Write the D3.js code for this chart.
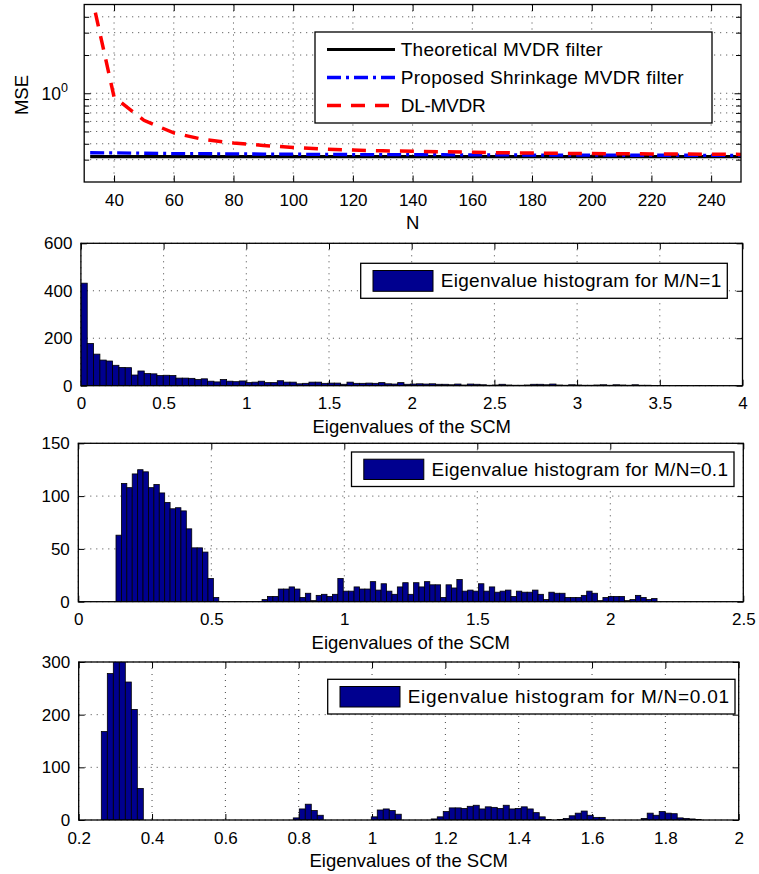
<!DOCTYPE html>
<html>
<head>
<meta charset="utf-8">
<script src="https://cdn.jsdelivr.net/npm/d3@7"></script>
<style>
  body { margin: 0; background: #fff; }
  svg text { font-family: "Liberation Sans", Arial, Helvetica, sans-serif; fill: #000; }
</style>
</head>
<body>
<svg id="fig" width="759" height="874"></svg>
<script>
// ---- MSE versus number of snapshots N ----
const snapshotsN = [32, 40, 50, 60, 70, 80, 90, 100, 110, 120, 130, 140, 150, 160, 170, 180, 190, 200, 210, 220, 230, 240, 250];
const mseTheoretical = [0.317, 0.317, 0.317, 0.317, 0.317, 0.317, 0.317, 0.317, 0.317, 0.317, 0.317, 0.317, 0.317, 0.317, 0.317, 0.317, 0.317, 0.317, 0.317, 0.317, 0.317, 0.317, 0.317];
const mseShrinkage = [0.340, 0.339, 0.337, 0.335, 0.334, 0.333, 0.332, 0.331, 0.330, 0.329, 0.329, 0.328, 0.328, 0.327, 0.327, 0.326, 0.326, 0.326, 0.325, 0.325, 0.325, 0.324, 0.324];
const mseDL = [6.6, 0.935, 0.612, 0.487, 0.432, 0.406, 0.388, 0.374, 0.364, 0.357, 0.352, 0.349, 0.346, 0.343, 0.340, 0.338, 0.336, 0.335, 0.334, 0.333, 0.332, 0.331, 0.330];
const mseLegend = ["Theoretical MVDR filter", "Proposed Shrinkage MVDR filter", "DL-MVDR"];
const nTicks = [40, 60, 80, 100, 120, 140, 160, 180, 200, 220, 240];
const mseMinor = [0.3, 0.4, 0.5, 0.6, 0.7, 0.8, 0.9, 2, 3, 4];

// ---- Eigenvalue histograms (100 equal-width bins each) ----
const hist1Start = 0, hist1Width = 0.0383;
const hist1Counts = [432, 178, 133, 108, 104, 86, 77, 76, 45,
  62, 51, 50, 43, 44, 43, 32, 32, 31, 26, 29, 19, 16, 26, 19, 17, 20, 13, 15, 19,
  13, 13, 21, 15, 15, 8, 10, 15, 15, 10, 11, 11, 6, 15, 10, 10, 11, 10, 13, 8, 7, 13, 6, 7, 8, 7, 8, 6,
  6, 4, 7, 3, 7, 6, 4, 2, 3, 6, 3, 2, 2, 3, 6, 6, 4, 7, 3, 2, 4, 3, 2, 2, 3, 4, 2, 4, 3, 2, 4, 2, 2,
  1, 1, 1, 0, 1, 1, 0, 1, 0, 1];
const hist1Ticks = [0, 0.5, 1, 1.5, 2, 2.5, 3, 3.5, 4];
const hist1YTicks = [0, 200, 400, 600];

const hist2Start = 0.1417, hist2Width = 0.02034;
const hist2Counts = [63, 112, 108, 121, 125, 123, 108, 111, 103, 94, 88, 89, 86, 69, 51, 51, 47, 22, 4,
  0, 0, 0, 0, 0, 0, 0, 0,
  2, 5, 5, 12, 12, 14, 12, 4, 8, 1,
  6, 7, 5, 7, 22, 10, 10, 14, 12, 12,
  19, 11, 17, 10, 7, 14, 18, 7, 18, 14,
  19, 16, 16, 4, 16, 13, 21, 10, 11, 10,
  17, 10, 14, 9, 10, 11, 5, 10, 9, 9,
  11, 7, 2, 9, 8, 8, 4, 4, 4, 6,
  10, 8, 1, 4, 5, 5, 5, 1, 2,
  6, 4, 2, 3];
const hist2Ticks = [0, 0.5, 1, 1.5, 2, 2.5];
const hist2YTicks = [0, 50, 100, 150];

const hist3Start = 0.2617, hist3Width = 0.01636;
const hist3Counts = [168, 278, 312, 305, 262, 210, 60,
  0, 0, 0, 0, 0, 0, 0, 0, 0, 0, 0, 0, 0, 0, 0, 0, 0, 0, 0, 0, 0, 0, 0, 0, 0,
  4, 21, 30, 18, 9,
  0, 0, 0, 0, 0, 0, 0, 0,
  6, 19, 21, 18, 11,
  0, 0, 0, 0, 0,
  2, 6, 16, 23, 23, 22, 26, 28, 21, 25, 24, 22, 28, 21, 22, 25, 21, 14, 6, 1,
  0,
  1, 3, 8, 13, 17, 9, 5, 5,
  0, 0, 0, 0, 0, 0,
  3, 13, 9, 16, 13, 12, 4, 3, 2, 1];
const hist3Ticks = [0.2, 0.4, 0.6, 0.8, 1, 1.2, 1.4, 1.6, 1.8, 2];
const hist3YTicks = [0, 100, 200, 300];

const histLabels = ["Eigenvalue histogram for M/N=1", "Eigenvalue histogram for M/N=0.1", "Eigenvalue histogram for M/N=0.01"];
const eigAxisLabel = "Eigenvalues of the SCM";

// ---- layout ----
const svg = d3.select("#fig");
const defs = svg.append("defs");
const BAR = "#00008f";
const TICK_FS = 17, LABEL_FS = 18.5, LEG_FS = 19;

const P1 = { l: 84.2, r: 741, t: 4.5, b: 182 };
const P2 = { l: 80.9, r: 742.5, t: 243.3, b: 385.7 };
const P3 = { l: 78.3, r: 743.3, t: 443.3, b: 601.7 };
const P4 = { l: 78.7, r: 738.7, t: 662, b: 820 };

function clip(p, id) {
  defs.append("clipPath").attr("id", id).append("rect")
    .attr("x", p.l).attr("y", p.t).attr("width", p.r - p.l).attr("height", p.b - p.t);
  return `url(#${id})`;
}

function grid(p, x, y, xv, yv) {
  const g = svg.append("g").attr("stroke", "#444").attr("stroke-width", 1)
    .attr("stroke-dasharray", "1,5").attr("fill", "none");
  g.append("g").selectAll("line").data(xv).join("line")
    .attr("x1", d => x(d)).attr("x2", d => x(d)).attr("y1", p.t).attr("y2", p.b);
  g.append("g").selectAll("line").data(yv).join("line")
    .attr("y1", d => y(d)).attr("y2", d => y(d)).attr("x1", p.l).attr("x2", p.r);
}

function styleAxis(sel) {
  sel.select(".domain").remove();
  sel.selectAll(".tick line").attr("stroke", "#000").attr("stroke-width", 1);
  sel.selectAll(".tick text").attr("font-size", TICK_FS)
    .attr("font-family", '"Liberation Sans", Arial, Helvetica, sans-serif').attr("fill", "#000");
}

function axes(p, x, y, xt, yt, xfmt, yfmt, tl) {
  const g = svg.append("g");
  g.append("g").attr("transform", `translate(0,${p.b})`)
    .call(d3.axisBottom(x).tickValues(xt).tickFormat(xfmt).tickSize(-tl).tickPadding(11.5)).call(styleAxis);
  g.append("g").attr("transform", `translate(0,${p.t})`)
    .call(d3.axisTop(x).tickValues(xt).tickFormat("").tickSize(-tl)).call(styleAxis);
  g.append("g").attr("transform", `translate(${p.l},0)`)
    .call(d3.axisLeft(y).tickValues(yt).tickFormat(yfmt).tickSize(-tl).tickPadding(8.5)).call(styleAxis);
  g.append("g").attr("transform", `translate(${p.r},0)`)
    .call(d3.axisRight(y).tickValues(yt).tickFormat("").tickSize(-tl)).call(styleAxis);
  return g;
}

function box(p) {
  svg.append("rect").attr("x", p.l).attr("y", p.t).attr("width", p.r - p.l).attr("height", p.b - p.t)
    .attr("fill", "none").attr("stroke", "#000").attr("stroke-width", 1.3);
}

function xLabel(p, text, dy) {
  svg.append("text").attr("x", (p.l + p.r) / 2).attr("y", p.b + dy)
    .attr("text-anchor", "middle").attr("font-size", LABEL_FS).text(text);
}

// ---- panel 1: MSE vs N (log y) ----
{
  const x = d3.scaleLinear().domain([30, 250]).range([P1.l, P1.r]);
  const y = d3.scaleLog().domain([0.2, 5]).range([P1.b, P1.t]);
  grid(P1, x, y, nTicks, mseMinor.concat([1]));
  axes(P1, x, y, nTicks, [1], d => String(d), () => "", 6.5);
  // minor ticks of the log axis
  const mg = svg.append("g");
  mg.append("g").attr("transform", `translate(${P1.l},0)`)
    .call(d3.axisLeft(y).tickValues(mseMinor).tickFormat("").tickSize(-5)).call(styleAxis);
  mg.append("g").attr("transform", `translate(${P1.r},0)`)
    .call(d3.axisRight(y).tickValues(mseMinor).tickFormat("").tickSize(-5)).call(styleAxis);
  // 10^0 label
  const lab = svg.append("text").attr("x", 68).attr("y", y(1) + 7).attr("text-anchor", "end")
    .attr("font-size", TICK_FS + 0.5).text("10");
  lab.append("tspan").attr("dy", -8).attr("font-size", 12.5).text("0");

  const cp = clip(P1, "c1");
  const line = vals => d3.line().x((d, i) => x(snapshotsN[i])).y(d => y(d))(vals);
  const lines = svg.append("g").attr("clip-path", cp).attr("fill", "none");
  lines.append("path").attr("d", line(mseTheoretical)).attr("stroke", "#000").attr("stroke-width", 3.2);
  lines.append("path").attr("d", line(mseShrinkage)).attr("stroke", "#0000ff").attr("stroke-width", 3.3)
    .attr("stroke-dasharray", "14,5,3,5");
  lines.append("path").attr("d", line(mseDL)).attr("stroke", "#ff0000").attr("stroke-width", 3.5)
    .attr("stroke-dasharray", "14,10");
  box(P1);

  svg.append("text").attr("transform", `translate(28,95) rotate(-90)`).attr("text-anchor", "middle")
    .attr("font-size", LABEL_FS).text("MSE");
  svg.append("text").attr("x", x(140)).attr("y", 229).attr("text-anchor", "middle")
    .attr("font-size", LABEL_FS).text("N");

  // legend
  const lg = svg.append("g");
  lg.append("rect").attr("x", 315).attr("y", 32).attr("width", 397).attr("height", 91)
    .attr("fill", "#fff").attr("stroke", "#000").attr("stroke-width", 1.3);
  const styles = [
    { c: "#000", dash: null, w: 3.2, len: 202 },
    { c: "#0000ff", dash: "14,5,3,5", w: 3.3, len: 283 },
    { c: "#ff0000", dash: "14,10", w: 3.5, len: 85 }
  ];
  mseLegend.forEach((t, i) => {
    const yy = 49.5 + i * 28;
    const s = styles[i];
    const l = lg.append("line").attr("x1", 327).attr("x2", 395).attr("y1", yy).attr("y2", yy)
      .attr("stroke", s.c).attr("stroke-width", s.w);
    if (s.dash) l.attr("stroke-dasharray", s.dash);
    lg.append("text").attr("x", 400.7).attr("y", yy).attr("dy", "0.35em").attr("font-size", LEG_FS)
      .attr("textLength", s.len).attr("lengthAdjust", "spacing").text(t);
  });
}

// ---- histogram panels ----
function histPanel(p, id, start, width, counts, xDom, yDom, xt, yt, label, leg) {
  const x = d3.scaleLinear().domain(xDom).range([p.l, p.r]);
  const y = d3.scaleLinear().domain(yDom).range([p.b, p.t]);
  grid(p, x, y, xt, yt);
  axes(p, x, y, xt, yt, d => String(d), d => String(d), 6);
  const cp = clip(p, id);
  svg.append("g").attr("clip-path", cp).selectAll("rect").data(counts).join("rect")
    .attr("x", (d, i) => x(start + i * width))
    .attr("width", (d, i) => x(start + (i + 1) * width) - x(start + i * width))
    .attr("y", d => y(d))
    .attr("height", d => y(0) - y(d))
    .attr("fill", BAR).attr("stroke", "#000").attr("stroke-width", 0.8);
  box(p);
  xLabel(p, eigAxisLabel, 47);

  // legend
  const lg = svg.append("g");
  lg.append("rect").attr("x", leg.l).attr("y", leg.t).attr("width", leg.r - leg.l).attr("height", leg.h)
    .attr("fill", "#fff").attr("stroke", "#000").attr("stroke-width", 1.3);
  lg.append("rect").attr("x", leg.l + 12.3).attr("y", leg.t + 7.2).attr("width", 60).attr("height", leg.h - 14.2)
    .attr("fill", BAR).attr("stroke", "#000").attr("stroke-width", 1);
  lg.append("text").attr("x", leg.l + 80).attr("y", leg.t + leg.h / 2).attr("dy", "0.35em")
    .attr("font-size", LEG_FS).attr("textLength", leg.r - leg.l - 86).attr("lengthAdjust", "spacing")
    .text(label);
}

histPanel(P2, "c2", hist1Start, hist1Width, hist1Counts, [0, 4], [0, 600], hist1Ticks, hist1YTicks,
  histLabels[0], { l: 360.7, r: 727.3, t: 263.3, h: 35 });
histPanel(P3, "c3", hist2Start, hist2Width, hist2Counts, [0, 2.5], [0, 150], hist2Ticks, hist2YTicks,
  histLabels[1], { l: 351.5, r: 734, t: 452, h: 34.5 });
histPanel(P4, "c4", hist3Start, hist3Width, hist3Counts, [0.2, 2], [0, 300], hist3Ticks, hist3YTicks,
  histLabels[2], { l: 327.7, r: 735, t: 679.3, h: 34.7 });
</script>
</body>
</html>
